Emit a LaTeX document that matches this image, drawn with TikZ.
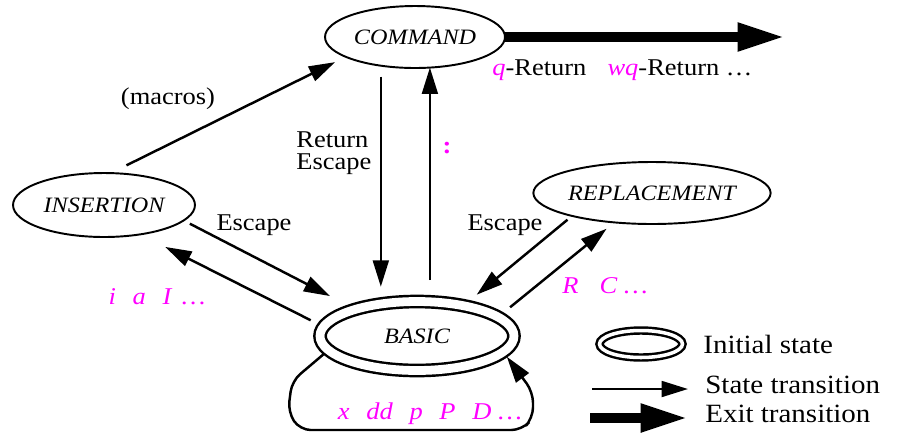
\documentclass[tikz,border=0pt]{standalone}
\usepackage{fontspec}
\setmainfont{Liberation Serif}[FakeStretch=1.1]
\usepackage{tikz}
\usetikzlibrary{
  arrows.meta,
  positioning,
  shapes.geometric
}
\definecolor{keymag}{RGB}{255,0,255}
\newcommand{\kgap}{\hspace{9.5pt}}

\begin{document}
\begin{tikzpicture}[
    x=0.02cm, y=-0.02cm,
    state/.style={ellipse, draw, line width=1.1pt, inner sep=0pt, outer sep=0pt,
                  font=\fontsize{12.5}{13}\selectfont\itshape},
    initstate/.style={ellipse, draw, line width=1.4pt, double, double distance=5pt,
                      inner sep=0pt},
    trans/.style={line width=1.4pt, -{Triangle[length=15pt, width=9pt]}},
    exit/.style={line width=5.7pt, -{Triangle[length=27pt, width=15pt]}},
    lbl/.style={font=\fontsize{13.7}{12.5}\selectfont, inner sep=0pt},
    key/.style={font=\fontsize{13.7}{12.5}\selectfont\itshape, text=keymag, inner sep=0pt},
    legend/.style={font=\fontsize{15}{15}\selectfont, anchor=west, inner sep=0pt}
  ]
  \useasboundingbox (0,0) rectangle (897,434);

  %% States
  \node[state, minimum width=3.6cm, minimum height=1.24cm] (cmd) at (415,37) {COMMAND};
  \node[state, minimum width=3.64cm, minimum height=1.28cm] (ins) at (104,205) {INSERTION};
  \node[state, minimum width=3.68cm, minimum height=1.24cm] (rep) at (652,193) {REPLACEMENT};
  \node[state, initstate, minimum width=3.88cm, minimum height=1.38cm, outer sep=3.9pt]
    (basic) at (417,336) {BASIC};

  %% Transitions
  \draw[trans, shorten <=10pt, shorten >=6.8pt] (ins.78) -- (cmd.196);
  \draw[trans, shorten <=4pt, shorten >=11.3pt] (ins.-11) -- (basic.156);
  \draw[trans, shorten <=4.5pt, shorten >=15.9pt] (basic.173) -- (ins.-39);
  \draw[trans, shorten <=3.4pt, shorten >=5.1pt] (rep.196) -- (basic.34);
  \draw[trans, shorten <=5.1pt, shorten >=5.7pt] (basic.15) -- (rep.-142);
  \draw[trans, shorten <=6.2pt, shorten >=4.5pt] (cmd.-140) -- (cmd.-140 |- basic.north);
  \draw[trans, shorten <=8.3pt] (cmd.-64 |- basic.north) -- (cmd.-64);

  %% Self loop on BASIC
  \draw[trans, rounded corners=6pt] (basic.-169) -- (292,381) -- (288,412) -- (300,430)
    -- (522,430) -- (533,418) -- (533,392) -- (basic.-13);

  %% Exit
  \coordinate (quit) at (785,37);
  \draw[exit] (cmd.east) -- (quit);

  %% Labels
  \node[lbl] (macros) at (168,99) {(macros)};
  \node[lbl, align=left, anchor=west] (retesc) at (296,153) {Return\\Escape};
  \node[lbl, text=keymag, font=\fontsize{13.7}{12.5}\selectfont\bfseries] (colon) at (447,148) {:};
  \node[lbl] (escins) at (254,225) {Escape};
  \node[lbl] (escrep) at (505,225) {Escape};
  \node[key] (inskeys) at (157,297) {i\kgap a\kgap I\hspace{6pt}\ldots};
  \node[key] (repkeys) at (605,286) {R\hspace{12pt}C\hspace{4pt}\ldots};
  \node[key] (basickeys) at (430,414) {x\kgap dd\kgap p\kgap P\kgap D\hspace{4pt}\ldots};
  \node[lbl, anchor=west] (quitkeys) at (492,70)
    {\textcolor{keymag}{\itshape q}-Return\hspace{12pt}\textcolor{keymag}{\itshape wq}-Return \ldots};

  %% Legend
  \node[initstate, minimum width=1.66cm, minimum height=0.54cm, double distance=2pt]
    (legini) at (641,344) {};
  \node[legend] (leginitext) at (703,344) {Initial state};
  \coordinate (legsta) at (592,389);
  \coordinate (legstb) at (688,389);
  \draw[trans] (legsta) -- (legstb);
  \node[legend] (legsttext) at (705,385) {State transition};
  \coordinate (legexa) at (590,418);
  \coordinate (legexb) at (688,418);
  \draw[exit] (legexa) -- (legexb);
  \node[legend] (legextext) at (705,414) {Exit transition};

\end{tikzpicture}
\end{document}
